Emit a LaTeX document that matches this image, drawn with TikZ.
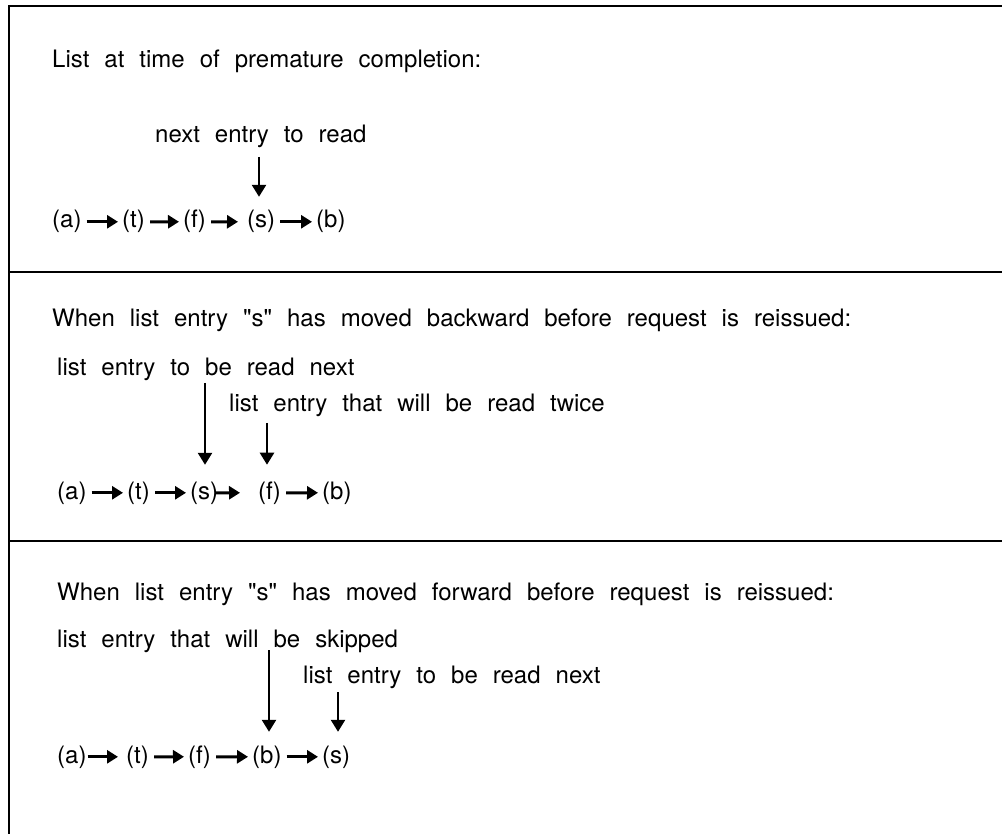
\documentclass[tikz,border=0pt]{standalone}
\usepackage{fontspec}
\setmainfont{TeX Gyre Heros}[WordSpace=2.25, Ligatures=TeXOff]
\usetikzlibrary{arrows.meta}
\begin{document}
\begin{tikzpicture}[x=1pt,y=-1pt,
  txt/.style={font=\fontsize{24}{28}\selectfont, inner sep=0pt, anchor=base west, text=black},
  item/.style={txt},
  harrow/.style={line width=3pt, -{Triangle[length=11pt,width=13pt]}, shorten <=5pt, shorten >=4pt},
  varrow/.style={line width=2.4pt, -{Triangle[length=12pt,width=14pt]}},
  frame/.style={line width=2.8pt, line join=miter}]
\useasboundingbox (0,0) rectangle (1002,834);
% frame
\draw[frame] (1002,6) -- (9,6) -- (9,834);
\draw[frame] (9,272) -- (1002,272);
\draw[frame] (9,541) -- (1002,541);

% ---------- panel 1
\node[txt] (h1) at (52,68) {List at time of premature completion:};
\node[txt] (l1) at (155,143) {next entry to read};
\node[item] (a1) at (52,228) {(a)};
\node[item] (t1) at (122,228) {(t)};
\node[item] (f1) at (183,228) {(f)};
\node[item] (s1) at (247,228) {(s)};
\node[item] (b1) at (316,228) {(b)};
\draw[harrow] (a1.east) -- (t1.west);
\draw[harrow] (t1.east) -- (f1.west);
\draw[harrow, shorten >=9pt] (f1.east) -- (s1.west);
\draw[harrow] (s1.east) -- (b1.west);
\coordinate (v1) at (259,157);
\draw[varrow, shorten >=13.5pt] (v1) -- (s1.north -| v1);

% ---------- panel 2
\node[txt] (h2) at (52,327) {When list entry "s" has moved backward before request is reissued:};
\node[txt] (l2a) at (57,376) {list entry to be read next};
\node[txt] (l2b) at (229,412) {list entry that will be read twice};
\node[item] (a2) at (57,499) {(a)};
\node[item] (t2) at (127,499) {(t)};
\node[item] (s2) at (190,499) {(s)};
\node[item] (f2) at (258,499) {(f)};
\node[item] (b2) at (322,499) {(b)};
\draw[harrow] (a2.east) -- (t2.west);
\draw[harrow] (t2.east) -- (s2.west);
\draw[harrow, shorten <=-3pt, shorten >=18pt] (s2.east) -- (f2.west);
\draw[harrow] (f2.east) -- (b2.west);
\coordinate (v2a) at (205,383);
\coordinate (v2b) at (267,423);
\draw[varrow, shorten >=16.5pt] (v2a) -- (s2.north -| v2a);
\draw[varrow, shorten >=16.5pt] (v2b) -- (f2.north -| v2b);

% ---------- panel 3
\node[txt] (h3) at (57,600) {When list entry "s" has moved forward before request is reissued:};
\node[txt] (l3a) at (57,647) {list entry that will be skipped};
\node[txt] (l3b) at (303,683) {list entry to be read next};
\node[item] (a3) at (57,763) {(a)};
\node[item] (t3) at (126,763) {(t)};
\node[item] (f3) at (188,763) {(f)};
\node[item] (b3) at (252,763) {(b)};
\node[item] (s3) at (322,763) {(s)};
\draw[harrow, shorten <=1pt, shorten >=8pt] (a3.east) -- (t3.west);
\draw[harrow] (t3.east) -- (f3.west);
\draw[harrow] (f3.east) -- (b3.west);
\draw[harrow] (b3.east) -- (s3.west);
\coordinate (v3a) at (269,650);
\coordinate (v3b) at (338,692);
\draw[varrow, shorten >=13.5pt] (v3a) -- (b3.north -| v3a);
\draw[varrow, shorten >=13.5pt] (v3b) -- (s3.north -| v3b);
\end{tikzpicture}
\end{document}
